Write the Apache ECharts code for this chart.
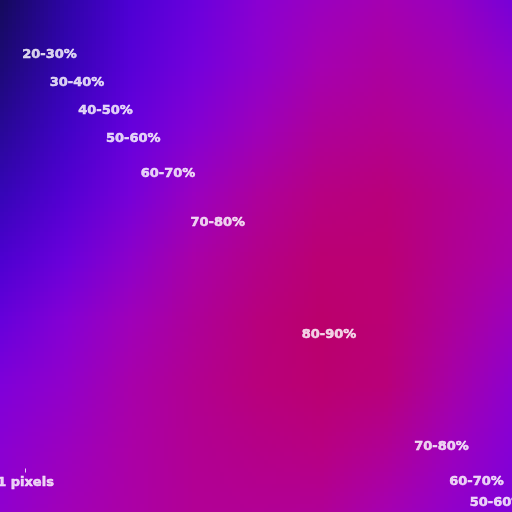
<!DOCTYPE html>
<html><head><meta charset="utf-8">
<script src="https://cdn.jsdelivr.net/npm/echarts@6/dist/echarts.min.js"></script>
<style>
html,body{margin:0;padding:0;width:512px;height:512px;overflow:hidden;background:#9800c8;}
#wrap{position:relative;width:512px;height:512px;overflow:hidden;}
#field{position:absolute;left:-32px;top:-32px;width:9px;height:9px;transform:scale(64);transform-origin:0 0;image-rendering:auto;}
#labels{position:absolute;left:0;top:0;width:512px;height:512px;}
</style></head><body>
<div id="wrap"><div id="field"></div><div id="labels"></div></div>
<script>
// sample positions (pixels) of the coarse field grid
const gridX = ['0','64','128','192','256','320','384','448','512'];
const gridY = ['0','64','128','192','256','320','384','448','512'];
// field values (%), rows top -> bottom
const row0 = [10, 24, 41, 52, 63, 69, 73, 71, 56];
const row1 = [15, 26, 43, 55, 64, 71, 77, 75, 65];
const row2 = [20, 33, 49, 60, 67, 76, 79, 76, 71];
const row3 = [26, 39, 54, 66, 75, 81, 83, 81, 76];
const row4 = [37, 49, 61, 73, 79, 84, 88, 81, 76];
const row5 = [46, 60, 69, 76, 82, 88, 89, 80, 71];
const row6 = [59, 65, 73, 79, 83, 88, 88, 79, 66];
const row7 = [63, 68, 75, 79, 82, 84, 83, 75, 63];
const row8 = [65, 71, 75, 79, 79, 80, 75, 69, 61];
const fieldRows = [row0,row1,row2,row3,row4,row5,row6,row7,row8];

// band labels and their anchor points (pixel data coordinates)
const bandLabels = ['20-30%','30-40%','40-50%','50-60%','60-70%','70-80%','80-90%','70-80%','60-70%','50-60%'];
const bandX = [49.5, 77, 105.5, 133.3, 168, 217.7, 329, 441.5, 476.5, 497];
const bandY = [55, 83, 111, 139, 174, 223, 335, 447, 482, 503];
const scaleLabel = '1 pixels';
const scalePos = [25.5, 482.5];
const scaleTick = [25.5, 470.5];

const colorStops = ['#100c44','#160c60','#200c80','#2a0aa0','#3208b4','#3c06c4','#4803d0','#5400d8','#5e00dc','#6a00e0','#7c00dc','#8c00d4','#9e00c0','#aa00ac','#b40090','#bc0074','#be006c'];

const heatData = [];
fieldRows.forEach((r, yi) => r.forEach((v, xi) => heatData.push([xi, yi, v])));

const field = echarts.init(document.getElementById('field'), null, {renderer:'canvas', width:9, height:9, devicePixelRatio:1});
field.setOption({
  animation:false,
  grid:{left:0,right:0,top:0,bottom:0},
  xAxis:{type:'category',data:gridX,show:false},
  yAxis:{type:'category',data:gridY,show:false,inverse:true},
  visualMap:{show:false,min:10,max:90,calculable:false,inRange:{color:colorStops}},
  series:[{type:'heatmap',data:heatData,itemStyle:{borderWidth:0}}]
});

const txt = {color:'#ffffff',fontFamily:'DejaVu Sans',fontWeight:'bold',fontSize:13,textBorderColor:'#ffffff',textBorderWidth:0.5};
const labelsChart = echarts.init(document.getElementById('labels'), null, {renderer:'canvas'});
labelsChart.setOption({
  animation:false,
  grid:{left:0,right:0,top:0,bottom:0},
  xAxis:{type:'value',min:0,max:512,show:false},
  yAxis:{type:'value',min:0,max:512,inverse:true,show:false},
  series:[
    {type:'scatter',symbolSize:0,clip:false,silent:true,
     data:bandLabels.map((t,i)=>({name:t,value:[bandX[i],bandY[i]]})),
     label:Object.assign({show:true,position:'inside',formatter:p=>p.name,align:'center',verticalAlign:'middle'},txt)},
    {type:'scatter',symbolSize:0,clip:false,silent:true,
     data:[{name:scaleLabel,value:scalePos}],
     label:Object.assign({show:true,position:'inside',formatter:p=>p.name,align:'center',verticalAlign:'middle'},txt)},
    {type:'scatter',symbol:'rect',symbolSize:[1,4],clip:false,silent:true,
     itemStyle:{color:'#ffffff'},data:[scaleTick]}
  ]
});
</script>
</body></html>
